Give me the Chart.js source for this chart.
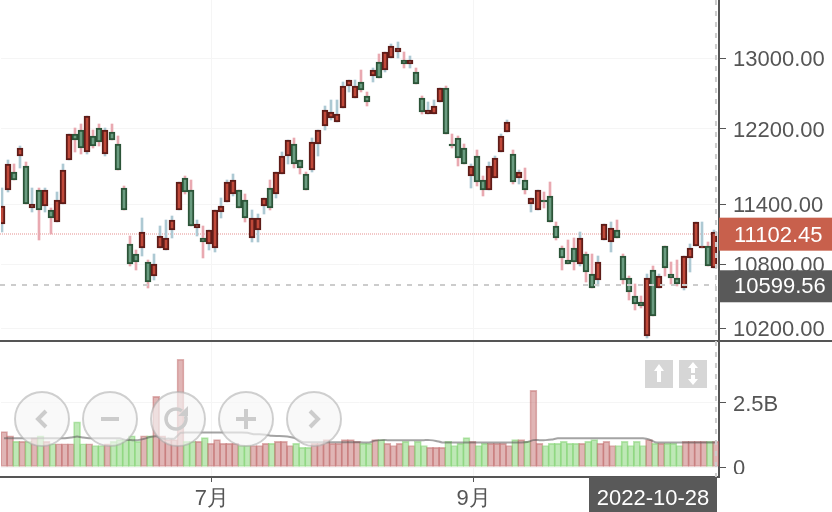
<!DOCTYPE html>
<html>
<head>
<meta charset="utf-8">
<style>
  html, body { margin: 0; padding: 0; background: #fff; }
  canvas { display: block; }
</style>
<script src="https://cdn.jsdelivr.net/npm/chart.js@4"></script>
</head>
<body>
<canvas id="klineChart" width="832" height="512"></canvas>
<script>
const opens = [11199,11547,11736,11906,11800,11361,11547,11382,11341,11219,11402,11863,12143,12186,11949,12121,12208,11927,12165,12034,
  11568,11000,10901,10960,10823,10688,10960,10940,11139,11341,11672,11547,11159,11059,11000,10960,11321,11423,11505,11547,
  11443,11059,11139,11382,11568,11505,11715,11906,12034,11863,11715,11757,12034,12230,12318,12274,12430,12678,12542,12724,
  12564,12792,12954,12861,13001,13071,12978,12931,12838,12542,12363,12363,12497,12655,12034,12099,11991,11693,11906,11651,
  11547,11672,11949,12165,11927,11672,11651,11402,11341,11443,11485,11179,10960,10843,10960,10804,10901,10707,10650,11039,
  11019,11139,10882,10669,10498,10441,10127,10746,10573,10980,10707,10669,10573,10862,10980,10960,10980,10765];
const closes = [11382,11821,11651,11991,11402,11402,11341,11547,11260,11443,11757,12143,12078,11991,12340,12013,12056,12186,12078,11757,
  11341,10804,10823,11119,10631,10804,11079,11059,11240,11630,11526,11179,11199,11019,11139,11341,11382,11630,11651,11361,
  11260,11260,11260,11464,11361,11736,11906,12078,11821,11778,11547,12056,12186,12407,12385,12363,12678,12747,12678,12632,
  12497,12861,12769,13071,13142,13118,12931,12978,12701,12385,12407,12452,12655,12143,12013,11884,11821,11800,11630,11547,
  11800,11884,12121,12274,11630,11736,11547,11464,11547,11423,11219,11059,10862,10804,10823,11059,10726,10573,10823,11199,
  11159,11059,10650,10535,10423,10404,10669,10311,10688,10765,10669,10611,10882,10960,11219,10980,10784,11119];
const highs = [11568,11863,11821,12013,11842,11568,11568,11568,11361,11526,11821,12143,12208,12252,12340,12186,12252,12208,12252,12121,
  11589,11079,10940,11260,10843,10901,11179,11240,11280,11630,11693,11651,11240,11179,11139,11341,11464,11651,11715,11547,
  11505,11341,11300,11464,11651,11736,11949,12078,12099,11863,11736,12099,12186,12452,12519,12519,12724,12747,12747,12861,
  12610,12884,13048,13071,13165,13189,13071,13024,12884,12564,12497,12519,12655,12678,12143,12121,12034,11821,11970,11693,
  11842,11906,12143,12296,11970,11757,11778,11464,11547,11526,11630,11219,10980,11039,11059,11119,10921,10901,10882,11199,
  11219,11240,10901,10688,10611,10498,10707,10784,10707,10980,10823,10843,10882,11000,11219,11219,11019,11139];
const lows = [11119,11526,11651,11778,11402,11321,11039,11321,11099,11219,11402,11863,11949,11927,11927,11991,12013,11906,12078,11757,
  11341,10784,10746,10882,10573,10650,10960,10940,11059,11341,11505,11179,11079,10862,10940,10921,11260,11423,11485,11361,
  11219,11019,11019,11300,11341,11464,11715,11821,11778,11715,11547,11736,11906,12186,12296,12274,12430,12610,12542,12610,
  12452,12724,12769,12838,13001,13001,12884,12884,12701,12363,12363,12363,12497,12143,11991,11800,11821,11568,11589,11485,
  11547,11672,11949,12165,11609,11609,11505,11321,11341,11361,11219,11039,10746,10804,10746,10784,10631,10573,10592,11039,
  10921,11059,10611,10460,10367,10385,10109,10311,10573,10688,10611,10592,10554,10726,10980,10960,10784,10765];
// volume in billions, MA of volume
const volumes = [1.38,1.22,1.00,1.00,1.00,1.14,1.22,1.00,0.91,0.91,0.91,0.91,1.76,0.91,0.91,0.84,0.84,0.91,1.00,1.07,
  1.07,1.22,1.00,1.22,1.22,2.76,1.22,1.07,1.07,4.21,1.00,1.00,1.00,1.15,0.92,1.07,0.92,0.92,0.92,0.84,
  0.84,0.84,0.84,0.92,0.92,1.00,1.00,0.84,0.92,0.77,0.77,0.92,0.92,1.07,0.92,0.92,1.07,1.07,1.00,0.92,
  0.92,1.07,1.07,0.92,0.84,0.92,1.00,0.84,1.00,0.84,0.77,0.77,0.77,1.00,0.84,0.92,1.15,1.00,0.84,0.92,
  0.92,0.92,0.92,0.84,1.07,1.07,1.00,2.99,0.92,0.84,0.92,0.92,1.00,0.92,0.92,0.92,1.00,1.07,0.92,1.00,
  0.84,0.84,1.00,0.84,1.00,0.84,1.07,0.92,0.92,0.92,0.92,0.84,1.00,1.00,1.00,1.00,1.00,1.00];
const volumeMA = [1.12,1.12,1.12,1.12,1.12,1.12,1.12,1.12,1.12,1.12,1.12,1.15,1.19,1.15,1.12,1.12,1.12,1.12,1.12,1.12,
  1.06,1.05,1.05,1.10,1.17,1.20,1.11,1.11,1.11,1.33,1.35,1.35,1.35,1.35,1.35,1.35,1.35,1.35,1.35,1.35,
  1.34,1.28,1.28,1.26,1.22,1.21,1.20,1.17,1.11,0.98,0.97,0.97,0.97,0.97,0.97,0.97,0.97,0.97,0.97,0.96,
  0.96,1.03,1.05,1.05,1.05,1.05,1.05,1.05,1.05,1.05,1.05,1.02,0.96,0.96,0.96,0.96,0.96,0.96,0.96,0.96,
  0.96,0.96,0.96,0.96,0.96,0.96,0.98,1.05,1.05,1.05,1.07,1.12,1.12,1.12,1.12,1.12,1.12,1.12,1.12,1.12,
  1.12,1.12,1.12,1.12,1.12,1.12,1.08,0.97,0.96,0.96,0.96,0.96,0.96,0.96,0.96,0.96,0.96,0.96];

const priceTicks = [10200, 10800, 11400, 12200, 13000];
const volumeTicks = [0, 2.5];
// month starts fall slightly past the candle's slot on the time axis
const monthTickValues = [34.16, 77.16];
const monthLabels = ["7月", "9月"];
const lastPrice = 11102.45;
const cursorPrice = 10599.56;
const cursorDate = "2022-10-28";

const categories = opens.map((_, i) => i);
const isUp = opens.map((o, i) => closes[i] >= o);

const fontFamily = "'Liberation Sans', Arial, sans-serif";
const textFont = "22px " + fontFamily;

// y axes must not reserve room for half a label above and below
function fitPane(scale) {
  scale.width = 113;
  scale.paddingTop = 0;
  scale.paddingBottom = 0;
}

// labels, cross lines and the toolbox buttons that sit on top of the chart
const overlay = {
  id: "overlay",
  afterDatasetsUpdate(chart) {
    // candles sit 2px left of the category centre and land on whole pixels
    [0, 1].forEach(function (n) {
      chart.getDatasetMeta(n).data.forEach(function (el) {
        el.x = Math.round(el.x) - 2;
        el.y = Math.round(el.y);
        el.base = Math.round(el.base);
      });
    });
  },
  beforeDatasetsDraw(chart) {
    const ctx = chart.ctx;
    const y = chart.scales.y.getPixelForValue(lastPrice);
    ctx.save();
    ctx.strokeStyle = "rgba(214,70,70,0.6)";
    ctx.lineWidth = 1;
    ctx.setLineDash([1, 1]);
    ctx.beginPath();
    ctx.moveTo(0, Math.round(y));
    ctx.lineTo(chart.chartArea.right - 3, Math.round(y));
    ctx.stroke();
    ctx.restore();
  },
  afterDraw(chart) {
    const ctx = chart.ctx;
    const yScale = chart.scales.y;
    const xScale = chart.scales.x;
    const right = chart.chartArea.right;
    const bottom = chart.chartArea.bottom;
    const lastX = xScale.getPixelForValue(categories.length - 1);
    const lastY = yScale.getPixelForValue(lastPrice);
    const cursorY = yScale.getPixelForValue(cursorPrice);

    ctx.save();

    // pane separator
    ctx.fillStyle = "#555";
    ctx.fillRect(0, yScale.bottom, 832, 2);

    // crosshair
    ctx.strokeStyle = "#ccc";
    ctx.lineWidth = 2;
    ctx.setLineDash([5, 6]);
    ctx.beginPath();
    ctx.moveTo(0, Math.round(cursorY));
    ctx.lineTo(right - 3, Math.round(cursorY));
    ctx.moveTo(lastX, 0);
    ctx.lineTo(lastX, bottom);
    ctx.stroke();
    ctx.setLineDash([]);

    // the "0" tick is cut by the axis box in the reference
    ctx.fillStyle = "#fff";
    ctx.fillRect(right + 2, 474, 832 - right, 38);

    // value tags
    ctx.font = textFont;
    ctx.textBaseline = "middle";
    ctx.textAlign = "left";
    ctx.fillStyle = "#c8604c";
    ctx.fillRect(right, lastY - 16, 832 - right, 33);
    ctx.fillStyle = "#fff";
    ctx.fillText(lastPrice.toFixed(2), right + 15, lastY + 2);
    ctx.fillStyle = "#595959";
    ctx.fillRect(right, cursorY - 15, 832 - right, 32);
    ctx.fillStyle = "#fff";
    ctx.fillText(cursorPrice.toFixed(2), right + 15, cursorY + 2);

    // date tag
    ctx.fillStyle = "#595959";
    ctx.fillRect(589, bottom, 128, 35);
    ctx.fillStyle = "#fff";
    ctx.textAlign = "center";
    ctx.fillText(cursorDate, 653, bottom + 22);

    // round navigation buttons
    [42, 110, 178, 246, 314].forEach(function (cx, n) {
      const cy = 419;
      ctx.beginPath();
      ctx.arc(cx, cy, 27, 0, Math.PI * 2);
      ctx.fillStyle = "rgba(246,246,246,0.65)";
      ctx.fill();
      ctx.strokeStyle = "rgba(170,170,170,0.55)";
      ctx.lineWidth = 2;
      ctx.stroke();

      ctx.strokeStyle = "#ccc";
      ctx.fillStyle = "#ccc";
      ctx.lineWidth = 4;
      ctx.beginPath();
      if (n === 0) {
        ctx.moveTo(cx + 4, cy - 8); ctx.lineTo(cx - 4, cy); ctx.lineTo(cx + 4, cy + 8);
      } else if (n === 1) {
        ctx.moveTo(cx - 9, cy); ctx.lineTo(cx + 9, cy);
      } else if (n === 2) {
        ctx.lineWidth = 3.5;
        ctx.arc(cx - 2, cy, 10, -0.3, Math.PI * 1.7);
      } else if (n === 3) {
        ctx.moveTo(cx - 10, cy); ctx.lineTo(cx + 10, cy);
        ctx.moveTo(cx, cy - 10); ctx.lineTo(cx, cy + 10);
      } else {
        ctx.moveTo(cx - 4, cy - 8); ctx.lineTo(cx + 4, cy); ctx.lineTo(cx - 4, cy + 8);
      }
      ctx.stroke();
      if (n === 2) {
        ctx.beginPath();
        ctx.moveTo(cx + 10, cy - 13); ctx.lineTo(cx + 10, cy - 3); ctx.lineTo(cx, cy - 3);
        ctx.closePath();
        ctx.fill();
      }
    });

    // square scale buttons
    ctx.fillStyle = "#d6d6d6";
    ctx.fillRect(645, 360, 28, 28);
    ctx.fillRect(679, 360, 28, 28);
    ctx.fillStyle = "#fff";
    arrow(ctx, 659, 364, 371, 382);
    arrow(ctx, 693, 362, 368, 373);
    arrow(ctx, 693, 385, 379, 375);

    ctx.restore();
  }
};

function arrow(ctx, cx, tip, headBase, tail) {
  ctx.beginPath();
  ctx.moveTo(cx, tip);
  ctx.lineTo(cx + 5, headBase);
  ctx.lineTo(cx + 2, headBase);
  ctx.lineTo(cx + 2, tail);
  ctx.lineTo(cx - 2, tail);
  ctx.lineTo(cx - 2, headBase);
  ctx.lineTo(cx - 5, headBase);
  ctx.closePath();
  ctx.fill();
}

new Chart("klineChart", {
  type: "bar",
  plugins: [overlay],
  data: {
    labels: categories,
    datasets: [
      {
        // candle bodies
        data: opens.map((o, i) => [o, closes[i]]),
        yAxisID: "y",
        barThickness: 6,
        borderWidth: 2,
        borderSkipped: false,
        backgroundColor: isUp.map(u => u ? "#c0493a" : "#6a9c80"),
        borderColor: isUp.map(u => u ? "#5e1c18" : "#2c5438"),
        order: 1
      },
      {
        // wicks
        data: lows.map((l, i) => [l, highs[i]]),
        yAxisID: "y",
        barThickness: 2,
        backgroundColor: isUp.map(u => u ? "#adc9d3" : "#e9a9b1"),
        order: 2
      },
      {
        type: "line",
        data: volumeMA,
        yAxisID: "vol",
        borderColor: "rgba(90,90,90,0.55)",
        borderWidth: 2,
        pointRadius: 0,
        tension: 0.2,
        order: 3
      },
      {
        data: volumes,
        yAxisID: "vol",
        barThickness: 7,
        borderWidth: 1,
        borderSkipped: false,
        backgroundColor: isUp.map(u => u ? "rgba(190,100,100,0.48)" : "rgba(125,210,110,0.5)"),
        borderColor: isUp.map(u => u ? "rgba(190,100,100,0.5)" : "rgba(125,210,110,0.55)"),
        order: 4
      }
    ]
  },
  options: {
    responsive: false,
    animation: false,
    events: [],
    layout: { padding: { left: 1 } },
    datasets: { bar: { grouped: false } },
    plugins: { legend: { display: false }, tooltip: { enabled: false } },
    scales: {
      x: {
        type: "category",
        offset: true,
        afterFit(scale) { scale.height = 35; },
        afterBuildTicks(scale) {
          scale.ticks = monthTickValues.map(v => ({ value: v }));
        },
        grid: { offset: false, color: "#f5f5f5", tickColor: "#555", tickLength: 5 },
        border: { color: "#555", width: 2 },
        ticks: {
          autoSkip: false,
          maxRotation: 0,
          padding: 4,
          color: "#555",
          font: { family: fontFamily, size: 22 },
          callback: (value, i) => monthLabels[i]
        }
      },
      y: {
        type: "logarithmic",
        position: "right",
        stack: "panes",
        stackWeight: 340,
        min: 10091,
        max: 13696,
        afterFit: fitPane,
        afterBuildTicks(scale) {
          scale.ticks = priceTicks.map(v => ({ value: v }));
        },
        grid: { color: "#f5f5f5", tickColor: "#555", tickLength: 7 },
        border: { color: "#555", width: 2 },
        ticks: {
          autoSkip: false,
          padding: 7,
          labelOffset: 2,
          color: "#555",
          font: { family: fontFamily, size: 22 },
          callback: value => value.toFixed(2)
        }
      },
      vol: {
        type: "linear",
        position: "right",
        stack: "panes",
        stackWeight: 137,
        min: -0.39,
        max: 4.96,
        afterFit: fitPane,
        afterBuildTicks(scale) {
          scale.ticks = volumeTicks.map(v => ({ value: v }));
        },
        grid: { color: "#f5f5f5", tickColor: "#555", tickLength: 7 },
        border: { color: "#555", width: 2 },
        ticks: {
          autoSkip: false,
          padding: 7,
          labelOffset: 2,
          color: "#555",
          font: { family: fontFamily, size: 22 },
          callback: value => value === 0 ? "0" : value + "B"
        }
      }
    }
  }
});
</script>
</body>
</html>
